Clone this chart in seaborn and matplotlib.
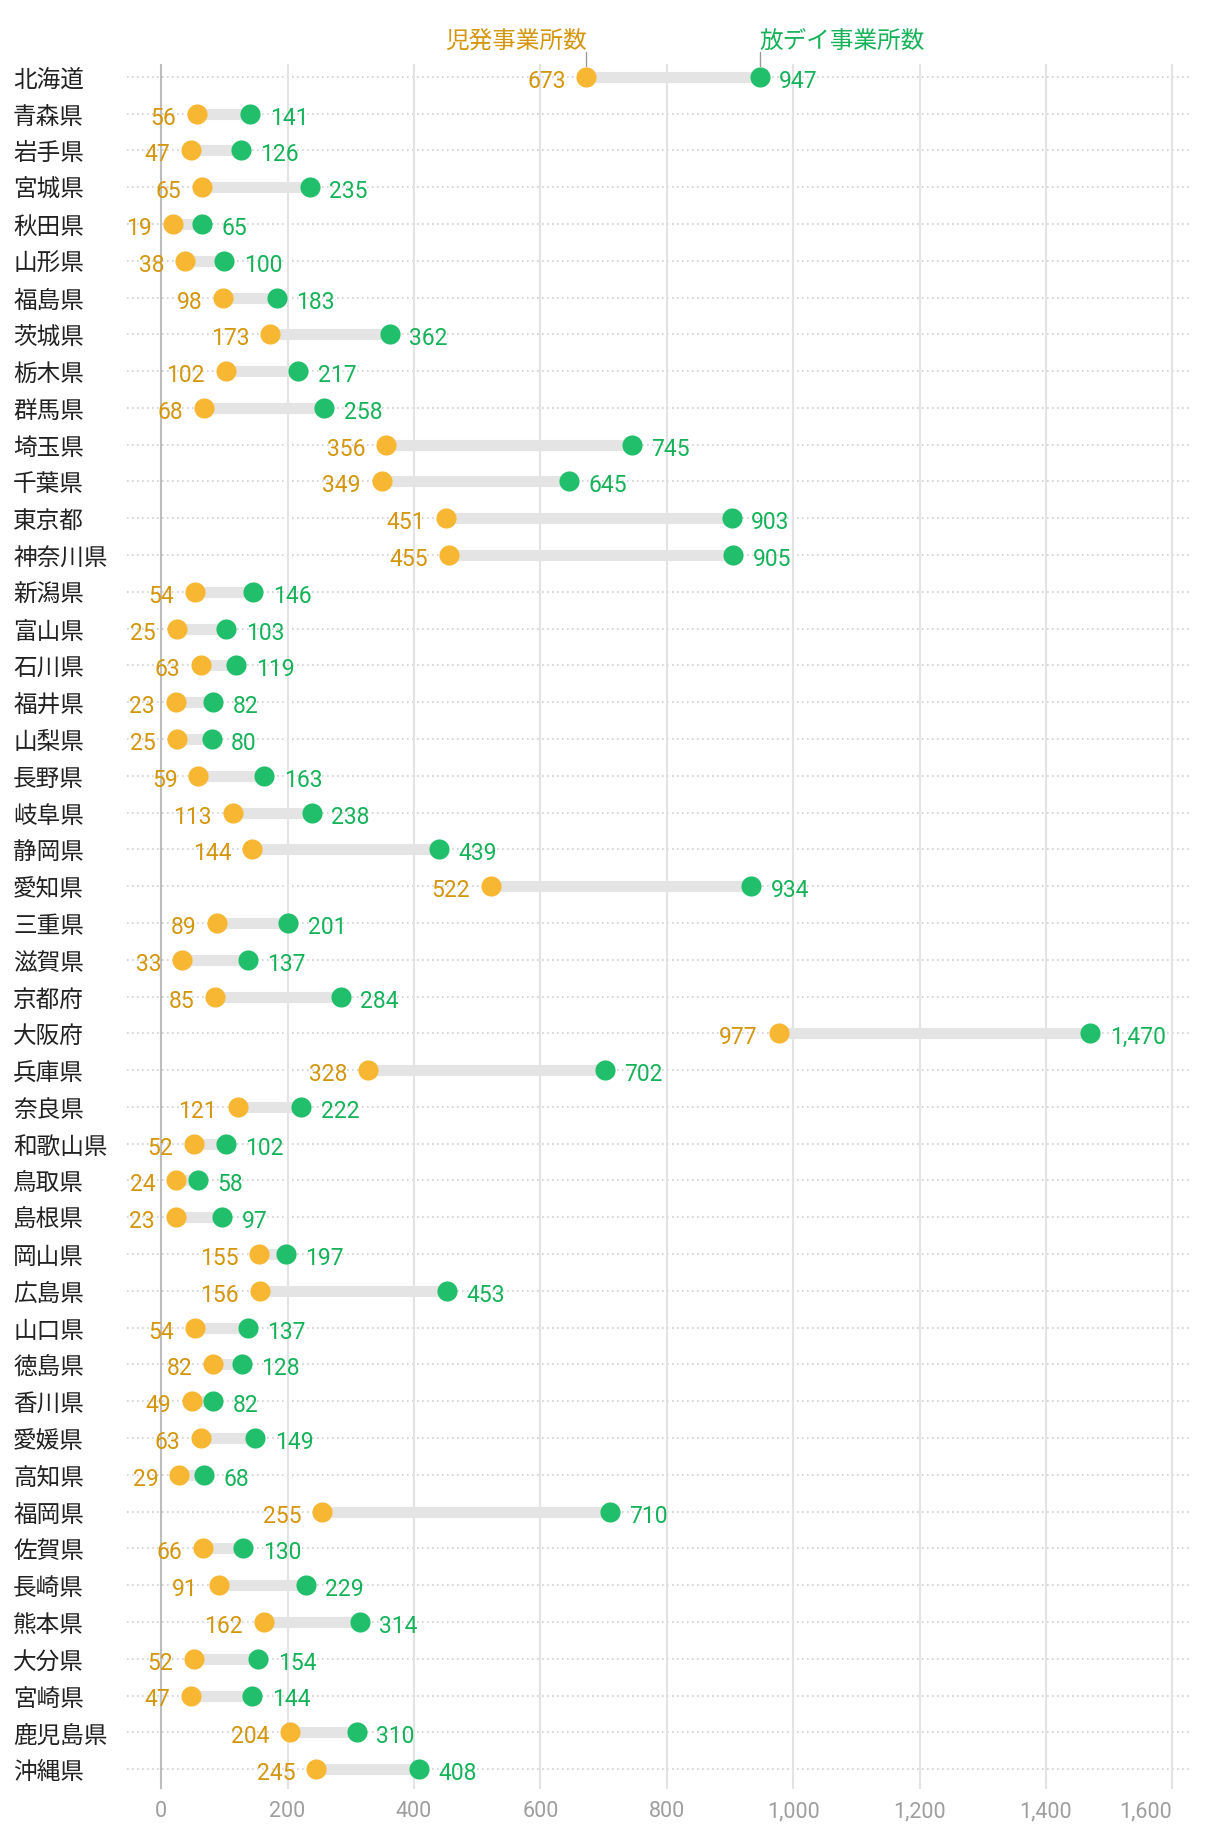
import matplotlib
matplotlib.use("Agg")
import matplotlib.pyplot as plt
import matplotlib.transforms as mtrans
import numpy as np
import pandas as pd
import seaborn as sns

prefs = ["北海道", "青森県", "岩手県", "宮城県", "秋田県", "山形県", "福島県", "茨城県",
         "栃木県", "群馬県", "埼玉県", "千葉県", "東京都", "神奈川県", "新潟県", "富山県",
         "石川県", "福井県", "山梨県", "長野県", "岐阜県", "静岡県", "愛知県", "三重県",
         "滋賀県", "京都府", "大阪府", "兵庫県", "奈良県", "和歌山県", "鳥取県", "島根県",
         "岡山県", "広島県", "山口県", "徳島県", "香川県", "愛媛県", "高知県", "福岡県",
         "佐賀県", "長崎県", "熊本県", "大分県", "宮崎県", "鹿児島県", "沖縄県"]
jihatsu = [673, 56, 47, 65, 19, 38, 98, 173, 102, 68, 356, 349, 451, 455, 54, 25,
           63, 23, 25, 59, 113, 144, 522, 89, 33, 85, 977, 328, 121, 52, 24, 23,
           155, 156, 54, 82, 49, 63, 29, 255, 66, 91, 162, 52, 47, 204, 245]
houday = [947, 141, 126, 235, 65, 100, 183, 362, 217, 258, 745, 645, 903, 905, 146, 103,
          119, 82, 80, 163, 238, 439, 934, 201, 137, 284, 1470, 702, 222, 102, 58, 97,
          197, 453, 137, 128, 82, 149, 68, 710, 130, 229, 314, 154, 144, 310, 408]
xticks = [0, 200, 400, 600, 800, 1000, 1200, 1400, 1600]

ORANGE = "#F7B733"
ORANGE_TXT = "#D3960E"
GREEN = "#21BF6B"
GREEN_TXT = "#16B25A"

df = pd.DataFrame({"pref": prefs, "jihatsu": jihatsu, "houday": houday})
df["pos"] = np.arange(len(df))

sns.set_theme(style="white")
plt.rcParams["font.family"] = ["Roboto", "Noto Sans CJK JP", "DejaVu Sans"]

fig = plt.figure(figsize=(12.2, 18.4), dpi=100)
ax = fig.add_axes([0.1041, 0.0272, 0.8713, 0.9375])

# row guide lines
for p in df["pos"]:
    ax.axhline(p, color="#CFCFCF", lw=1.2, ls=(0, (1, 2)), zorder=0)

# vertical grid
for t in xticks:
    ax.axvline(t, color="#BDBDBD" if t == 0 else "#E3E3E3", lw=1.5, zorder=0.5)

# connectors
ax.hlines(df["pos"], df["jihatsu"], df["houday"], color="#E4E4E4", lw=8, zorder=1)

sns.scatterplot(data=df, x="jihatsu", y="pos", color=ORANGE, s=210, linewidth=0,
                ax=ax, zorder=3)
sns.scatterplot(data=df, x="houday", y="pos", color=GREEN, s=210, linewidth=0,
                ax=ax, zorder=3)

off_l = mtrans.offset_copy(ax.transData, fig=fig, x=-15, y=-2.5, units="points")
off_r = mtrans.offset_copy(ax.transData, fig=fig, x=14, y=-2.5, units="points")
for _, r in df.iterrows():
    ax.text(r["jihatsu"], r["pos"], f"{r['jihatsu']:,}", transform=off_l, ha="right",
            va="center", fontsize=16.5, color=ORANGE_TXT)
    ax.text(r["houday"], r["pos"], f"{r['houday']:,}", transform=off_r, ha="left",
            va="center", fontsize=16.5, color=GREEN_TXT)

# series labels above the first row
ax.plot([jihatsu[0], jihatsu[0]], [-0.3, -0.68], color="#999999", lw=1, clip_on=False)
ax.plot([houday[0], houday[0]], [-0.3, -0.68], color="#999999", lw=1, clip_on=False)
ax.text(jihatsu[0], -0.97, "児発事業所数", ha="right", va="center", fontsize=17,
        color=ORANGE_TXT)
ax.text(houday[0], -0.97, "放デイ事業所数", ha="left", va="center", fontsize=17,
        color=GREEN_TXT)

ax.set_xlim(-54, 1628)
ax.set_ylim(len(df) - 0.46, -0.35)
ax.set_xticks(xticks)
ax.set_xticklabels([f"{t:,}" for t in xticks], color="#9E9E9E", fontsize=15.5)
ax.get_xticklabels()[-1].set_ha("right")
ax.set_yticks(df["pos"])
ax.set_yticklabels(df["pref"], fontsize=17, color="#222222", ha="left")
ax.tick_params(axis="y", length=0, pad=82)
ax.tick_params(axis="x", length=0, pad=8)
ax.set_xlabel("")
ax.set_ylabel("")
sns.despine(ax=ax, left=True, bottom=True)

fig.savefig("out.png", dpi=100)
